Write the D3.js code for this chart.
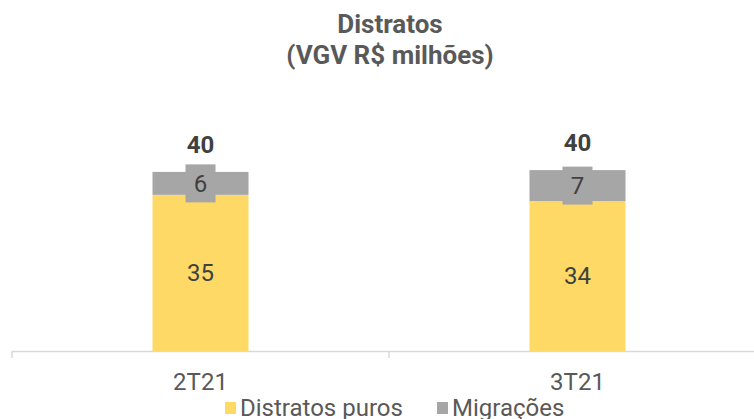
<!DOCTYPE html>
<html>
<head>
<meta charset="utf-8">
<script src="https://cdn.jsdelivr.net/npm/d3@7"></script>
<style>
  body { margin: 0; background: #fff; }
  svg text { font-family: Roboto, "Noto Sans", sans-serif; }
</style>
</head>
<body>
<div id="chart"></div>
<script>
// categories and series
const categories = ['2T21', '3T21'];
const puros = [34.7, 33.3];        // bar heights
const migracoes = [5.1, 6.9];
const purosLabels = ['35', '34'];  // labels as printed
const migracoesLabels = ['6', '7'];
const totalLabels = ['40', '40'];
const seriesNames = ['Distratos puros', 'Migrações'];

const width = 754, height = 419;
const colors = { puros: '#FFD966', mig: '#A6A6A6', text: '#404040', axis: '#D9D9D9' };

const svg = d3.select('#chart').append('svg')
    .attr('width', width)
    .attr('height', height);

// title
const title = svg.append('text')
    .attr('text-anchor', 'middle')
    .attr('fill', '#595959')
    .style('font-weight', 'bold')
    .style('font-size', '26px');
title.append('tspan').attr('x', 390).attr('y', 33).text('Distratos');
title.append('tspan').attr('x', 390).attr('y', 64).text('(VGV R$ milhões)');

const x = d3.scaleBand()
    .domain(categories)
    .range([12, 766])
    .paddingInner(0)
    .paddingOuter(0);

const barW = 96;
const y = d3.scaleLinear()
    .domain([0, 40])
    .range([351, 171]);

// axis
const xAxis = d3.axisBottom(x).tickSize(0).tickFormat('');
svg.append('g')
   .attr('transform', 'translate(0,351)')
   .call(xAxis)
   .call(g => g.select('.domain').attr('stroke', colors.axis).attr('stroke-width', 1.5));

// tick marks at band boundaries
svg.append('g').selectAll('line')
   .data(categories.concat(['end']))
   .enter()
   .append('line')
   .attr('x1', (d, i) => 12 + i * x.bandwidth())
   .attr('x2', (d, i) => 12 + i * x.bandwidth())
   .attr('y1', 351)
   .attr('y2', 358)
   .attr('stroke', colors.axis)
   .attr('stroke-width', 1.5);

const cx = d => x(d) + x.bandwidth() / 2;

// yellow bars
svg.selectAll('rect.puros')
   .data(categories)
   .enter()
   .append('rect')
   .attr('class', 'puros')
   .attr('x', d => cx(d) - barW / 2)
   .attr('width', barW)
   .attr('y', (d, i) => y(puros[i]))
   .attr('height', (d, i) => y(0) - y(puros[i]))
   .attr('fill', colors.puros);

// gray bars
svg.selectAll('rect.mig')
   .data(categories)
   .enter()
   .append('rect')
   .attr('class', 'mig')
   .attr('x', d => cx(d) - barW / 2)
   .attr('width', barW)
   .attr('y', (d, i) => y(puros[i] + migracoes[i]))
   .attr('height', (d, i) => y(puros[i]) - y(puros[i] + migracoes[i]))
   .attr('fill', colors.mig);

// label boxes on the gray segment
svg.selectAll('rect.migbox')
   .data(categories)
   .enter()
   .append('rect')
   .attr('class', 'migbox')
   .attr('x', d => cx(d) - 15)
   .attr('width', 30)
   .attr('y', (d, i) => y(puros[i] + migracoes[i] / 2) - 19)
   .attr('height', 38)
   .attr('fill', colors.mig);

svg.selectAll('text.miglabel')
   .data(categories)
   .enter()
   .append('text')
   .attr('class', 'miglabel')
   .attr('x', d => cx(d))
   .attr('y', (d, i) => y(puros[i] + migracoes[i] / 2))
   .attr('dy', '0.35em')
   .attr('text-anchor', 'middle')
   .attr('fill', colors.text)
   .style('font-size', '24px')
   .text((d, i) => migracoesLabels[i]);

svg.selectAll('text.puroslabel')
   .data(categories)
   .enter()
   .append('text')
   .attr('class', 'puroslabel')
   .attr('x', d => cx(d))
   .attr('y', (d, i) => y(puros[i] / 2))
   .attr('dy', '0.35em')
   .attr('text-anchor', 'middle')
   .attr('fill', colors.text)
   .style('font-size', '24px')
   .text((d, i) => purosLabels[i]);

svg.selectAll('text.total')
   .data(categories)
   .enter()
   .append('text')
   .attr('class', 'total')
   .attr('x', d => cx(d))
   .attr('y', (d, i) => y(puros[i] + migracoes[i]) - 19)
   .attr('text-anchor', 'middle')
   .attr('fill', colors.text)
   .style('font-size', '24px')
   .style('font-weight', 'bold')
   .text((d, i) => totalLabels[i]);

// category labels
svg.selectAll('text.cat')
   .data(categories)
   .enter()
   .append('text')
   .attr('class', 'cat')
   .attr('x', d => cx(d))
   .attr('y', 382)
   .attr('dy', '0.35em')
   .attr('text-anchor', 'middle')
   .attr('fill', '#595959')
   .style('font-size', '24px')
   .text(d => d);

// legend
const legendX = [225, 437];
const legendColors = [colors.puros, colors.mig];
const legend = svg.selectAll('g.legend')
   .data(seriesNames)
   .enter()
   .append('g')
   .attr('class', 'legend')
   .attr('transform', (d, i) => 'translate(' + legendX[i] + ',408)');

legend.append('rect')
   .attr('x', 0)
   .attr('y', -6)
   .attr('width', 11)
   .attr('height', 12)
   .attr('fill', (d, i) => legendColors[i]);

legend.append('text')
   .attr('x', 15)
   .attr('y', 0)
   .attr('dy', '0.35em')
   .attr('fill', '#595959')
   .style('font-size', '24px')
   .text(d => d);
</script>
</body>
</html>
